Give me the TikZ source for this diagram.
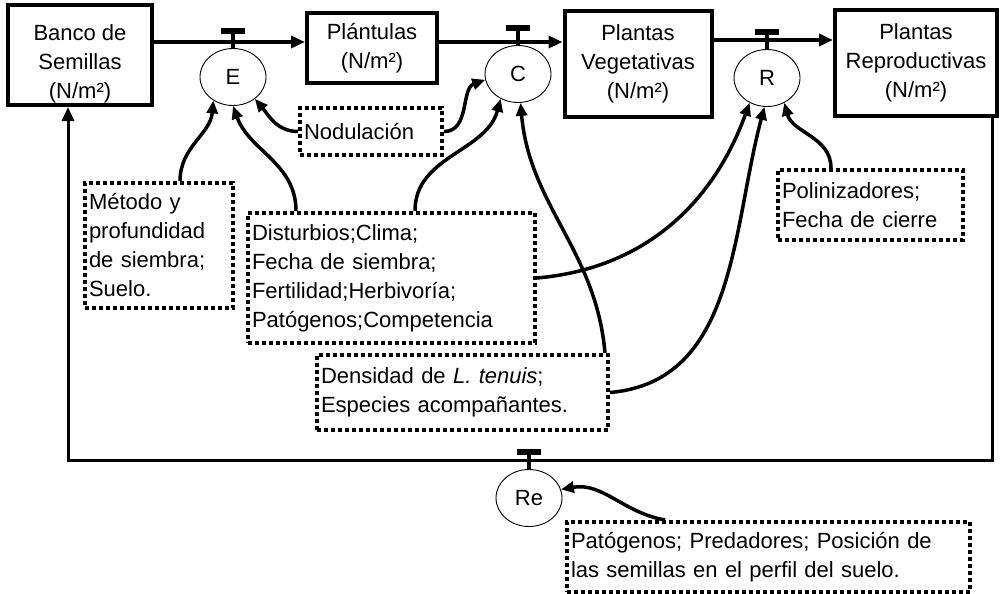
\documentclass[tikz,border=0pt]{standalone}
\usepackage{fontspec}
\setmainfont{Liberation Sans}
\usetikzlibrary{shapes.geometric, arrows.meta, positioning, calc}

\tikzset{
  stock/.style={draw, line width=4pt, align=center, inner sep=0pt,
    font=\fontsize{22}{29}\selectfont},
  factor/.style={draw, line width=4pt, dash pattern=on 4pt off 3pt,
    align=left, inner xsep=4pt, inner ysep=0pt, font=\fontsize{22}{29}\selectfont},
  rate/.style={draw, ellipse, line width=0.9pt, minimum width=66pt,
    minimum height=57pt, inner sep=0pt, font=\fontsize{22}{29}\selectfont},
  flow/.style={line width=3.5pt, -{Triangle[length=14pt,width=12pt]}},
  link/.style={line width=3.5pt, -{Triangle[length=13pt,width=11pt]}},
  stem/.style={line width=3.5pt},
  bar/.style={line width=5.5pt}
}

\begin{document}
\begin{tikzpicture}[x=1pt,y=-1pt]
  \useasboundingbox (0,0) rectangle (1001,594);

  % Stocks
  \node[stock, minimum width=144pt, minimum height=100pt] (banco) at (80,55) {\rule{0pt}{34pt}Banco de\\Semillas\\(N/m²)};
  \node[stock, minimum width=130pt, minimum height=70pt] (plant) at (372,48) {Plántulas\\(N/m²)};
  \node[stock, minimum width=147pt, minimum height=105pt] (veg) at (638,64) {Plantas\\Vegetativas\\(N/m²)};
  \node[stock, minimum width=162pt, minimum height=106pt] (repr) at (916,63) {Plantas\\Reproductivas\\(N/m²)};

  % Rates
  \node[rate] (E) at (233,77) {E};
  \node[rate] (C) at (518,74) {C};
  \node[rate] (R) at (767,78) {R};
  \node[rate] (Re) at (529,498) {Re};

  % Factors
  \node[factor, text width=134pt, minimum height=47pt] (nodul) at (371,131.5) {Nodulación};
  \node[factor, text width=140pt, minimum height=125pt] (metodo) at (159,245.5) {Método y\\profundidad\\de siembra;\\Suelo.};
  \node[factor, text width=279pt, minimum height=130pt] (dist) at (391.5,278) {Disturbios;Clima;\\Fecha de siembra;\\Fertilidad;Herbivoría;\\Patógenos;Competencia};
  \node[factor, text width=283pt, minimum height=75pt] (dens) at (462.5,392.5) {Densidad de \textit{L. tenuis};\\Especies acompañantes.};
  \node[factor, text width=177pt, minimum height=70pt] (polin) at (870.5,205) {Polinizadores;\\Fecha de cierre};
  \node[factor, text width=395pt, minimum height=70pt] (patog) at (768.5,557) {Patógenos; Predadores; Posición de\\las semillas en el perfil del suelo.};

  % Main flows
  \coordinate (lvl) at (0,42);
  \coordinate (rt) at (992,460);
  \coordinate (lt) at (68,460);
  \draw[flow] (banco.east |- lvl) -- (plant.west |- lvl);
  \draw[flow] (plant.east |- lvl) -- (veg.west |- lvl);
  \draw[flow] ($(veg.east |- lvl)+(0,-2)$) -- ($(repr.west |- lvl)+(0,-2)$);
  \draw[flow, line width=3pt] (repr.south -| rt) -- (rt) -- (lt) -- (banco.south -| lt);

  % Valves
  \foreach \r in {E,C,R,Re} {
    \draw[stem] (\r.north) -- ++(0,-17) coordinate (v\r);
    \draw[bar] ($(v\r)+(-12,0)$) -- ($(v\r)+(12,0)$);
  }

  % Influences
  \draw[link] ($(metodo.north)+(21,0)$) to[out=90, in=-95] (E.230);
  \draw[link] ($(dist.north west)+(50,0)$) to[out=90, in=-70] (E.270);
  \draw[link] (nodul.west) to[out=180, in=-50] (E.315);
  \draw[link] (nodul.east) to[out=0, in=200] (C.190);
  \draw[link] ($(dist.north west)+(169,0)$) to[out=90, in=-105] (C.235);
  \draw[link] ($(dens.north east)+(-5,0)$) to[out=95, in=-85] (C.275);
  \draw[link] (dist.east) to[out=5, in=-110] (R.235);
  \draw[link] (dens.east) to[out=5, in=-105] (R.265);
  \draw[link] ($(polin.north west)+(55,0)$) to[out=90, in=-75] (R.305);
  \draw[link] ($(patog.north west)+(100,0)$) to[out=170, in=10] (Re.15);
\end{tikzpicture}
\end{document}
